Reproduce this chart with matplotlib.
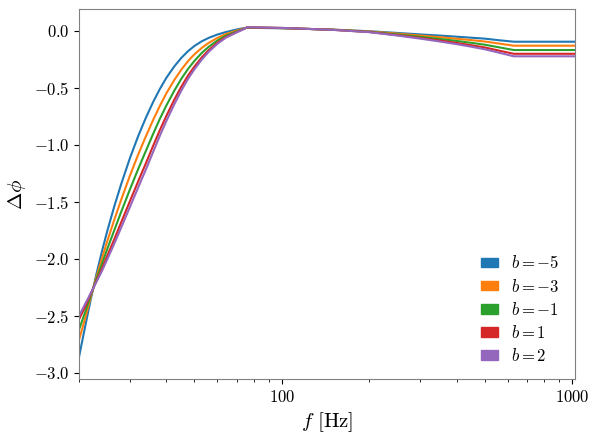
import matplotlib
matplotlib.use("Agg")
import matplotlib.pyplot as plt
import matplotlib.patches as mpatches
from matplotlib.ticker import FixedLocator, FuncFormatter, NullFormatter

plt.rcParams['font.family'] = 'serif'
plt.rcParams['font.serif'] = ['cmr10']
plt.rcParams['mathtext.fontset'] = 'cm'
plt.rcParams['axes.formatter.use_mathtext'] = True
plt.rcParams['axes.unicode_minus'] = True

# frequencies [Hz]
freq = [20, 21, 22, 23, 24, 25, 26.5, 28, 30, 32, 34, 36, 38, 40, 42.5, 45, 47.5,
        50, 53, 56, 60, 64, 68, 72, 76,
        100, 150, 200, 250, 300, 350, 400, 450, 500, 560, 630, 1024]

b_values = [-5, -3, -1, 1, 2]

dphi_bm5 = [-2.86, -2.592, -2.344, -2.126, -1.932, -1.759, -1.533, -1.337, -1.111, -0.921, -0.761,
            -0.624, -0.508, -0.411, -0.314, -0.237, -0.177, -0.131, -0.090, -0.060, -0.031, -0.010,
            0.006, 0.020, 0.028,
            0.024, 0.012, -0.002, -0.017, -0.030, -0.040, -0.050, -0.059, -0.067, -0.081, -0.094, -0.094]
dphi_bm3 = [-2.71, -2.521, -2.326, -2.152, -1.994, -1.848, -1.651, -1.475, -1.265, -1.083, -0.924,
            -0.782, -0.656, -0.547, -0.434, -0.341, -0.264, -0.204, -0.148, -0.104, -0.060, -0.028,
            -0.006, 0.014, 0.030,
            0.025, 0.012, -0.004, -0.023, -0.040, -0.054, -0.068, -0.080, -0.092, -0.110, -0.129, -0.129]
dphi_bm1 = [-2.62, -2.466, -2.313, -2.172, -2.043, -1.916, -1.744, -1.582, -1.386, -1.210, -1.052,
            -0.904, -0.770, -0.654, -0.528, -0.421, -0.333, -0.262, -0.192, -0.138, -0.083, -0.042,
            -0.015, 0.009, 0.031,
            0.026, 0.011, -0.007, -0.030, -0.051, -0.070, -0.087, -0.104, -0.120, -0.143, -0.167, -0.167]
dphi_b1 = [-2.53, -2.419, -2.301, -2.189, -2.084, -1.975, -1.823, -1.674, -1.489, -1.318, -1.161,
           -1.009, -0.869, -0.745, -0.608, -0.490, -0.391, -0.311, -0.231, -0.167, -0.102, -0.054,
           -0.023, 0.005, 0.032,
           0.027, 0.010, -0.009, -0.036, -0.061, -0.083, -0.104, -0.125, -0.144, -0.172, -0.200, -0.200]
dphi_b2 = [-2.50, -2.395, -2.295, -2.198, -2.105, -2.005, -1.862, -1.720, -1.540, -1.372, -1.215,
           -1.062, -0.918, -0.790, -0.648, -0.525, -0.420, -0.335, -0.250, -0.182, -0.112, -0.060,
           -0.027, 0.003, 0.033,
           0.027, 0.010, -0.010, -0.040, -0.067, -0.092, -0.115, -0.138, -0.160, -0.190, -0.222, -0.222]

series = [dphi_bm5, dphi_bm3, dphi_bm1, dphi_b1, dphi_b2]
colors = ['#1f77b4', '#ff7f0e', '#2ca02c', '#d62728', '#9467bd']

fig = plt.figure(figsize=(5.98, 4.41), dpi=100)
ax = fig.add_axes([79 / 598, (441 - 379) / 441, 496 / 598, 370 / 441])

handles = []
for b, vals, c in zip(b_values, series, colors):
    ax.plot(freq, vals, color=c, lw=1.5)
    handles.append(mpatches.Patch(color=c, label=r'$b = %d$' % b))

ax.set_xscale('log')
ax.set_xlim(20, 1024)
ax.set_ylim(-3.053, 0.193)
ax.set_yticks([0.0, -0.5, -1.0, -1.5, -2.0, -2.5, -3.0])
ax.yaxis.set_major_formatter(FuncFormatter(lambda v, p: r'$%.1f$' % v))
ax.xaxis.set_major_locator(FixedLocator([100, 1000]))
ax.xaxis.set_major_formatter(FuncFormatter(lambda v, p: r'$%d$' % int(round(v))))
ax.xaxis.set_minor_locator(FixedLocator([20, 30, 40, 50, 60, 70, 80, 90,
                                         200, 300, 400, 500, 600, 700, 800, 900]))
ax.xaxis.set_minor_formatter(NullFormatter())

for s in ax.spines.values():
    s.set_color('#808080')
ax.tick_params(axis='both', which='major', labelsize=12, length=3.5, width=0.8)
ax.tick_params(axis='both', which='minor', length=2, width=0.6)

ax.set_xlabel(r'$f\ [\mathrm{Hz}]$', fontsize=15)
ax.set_ylabel(r'$\Delta\phi$', fontsize=15)

ax.legend(handles=handles, loc='lower right', frameon=False, fontsize=12,
          handlelength=1.0, handleheight=0.5, labelspacing=0.37,
          handletextpad=0.8)

fig.savefig('out.png', dpi=100)
